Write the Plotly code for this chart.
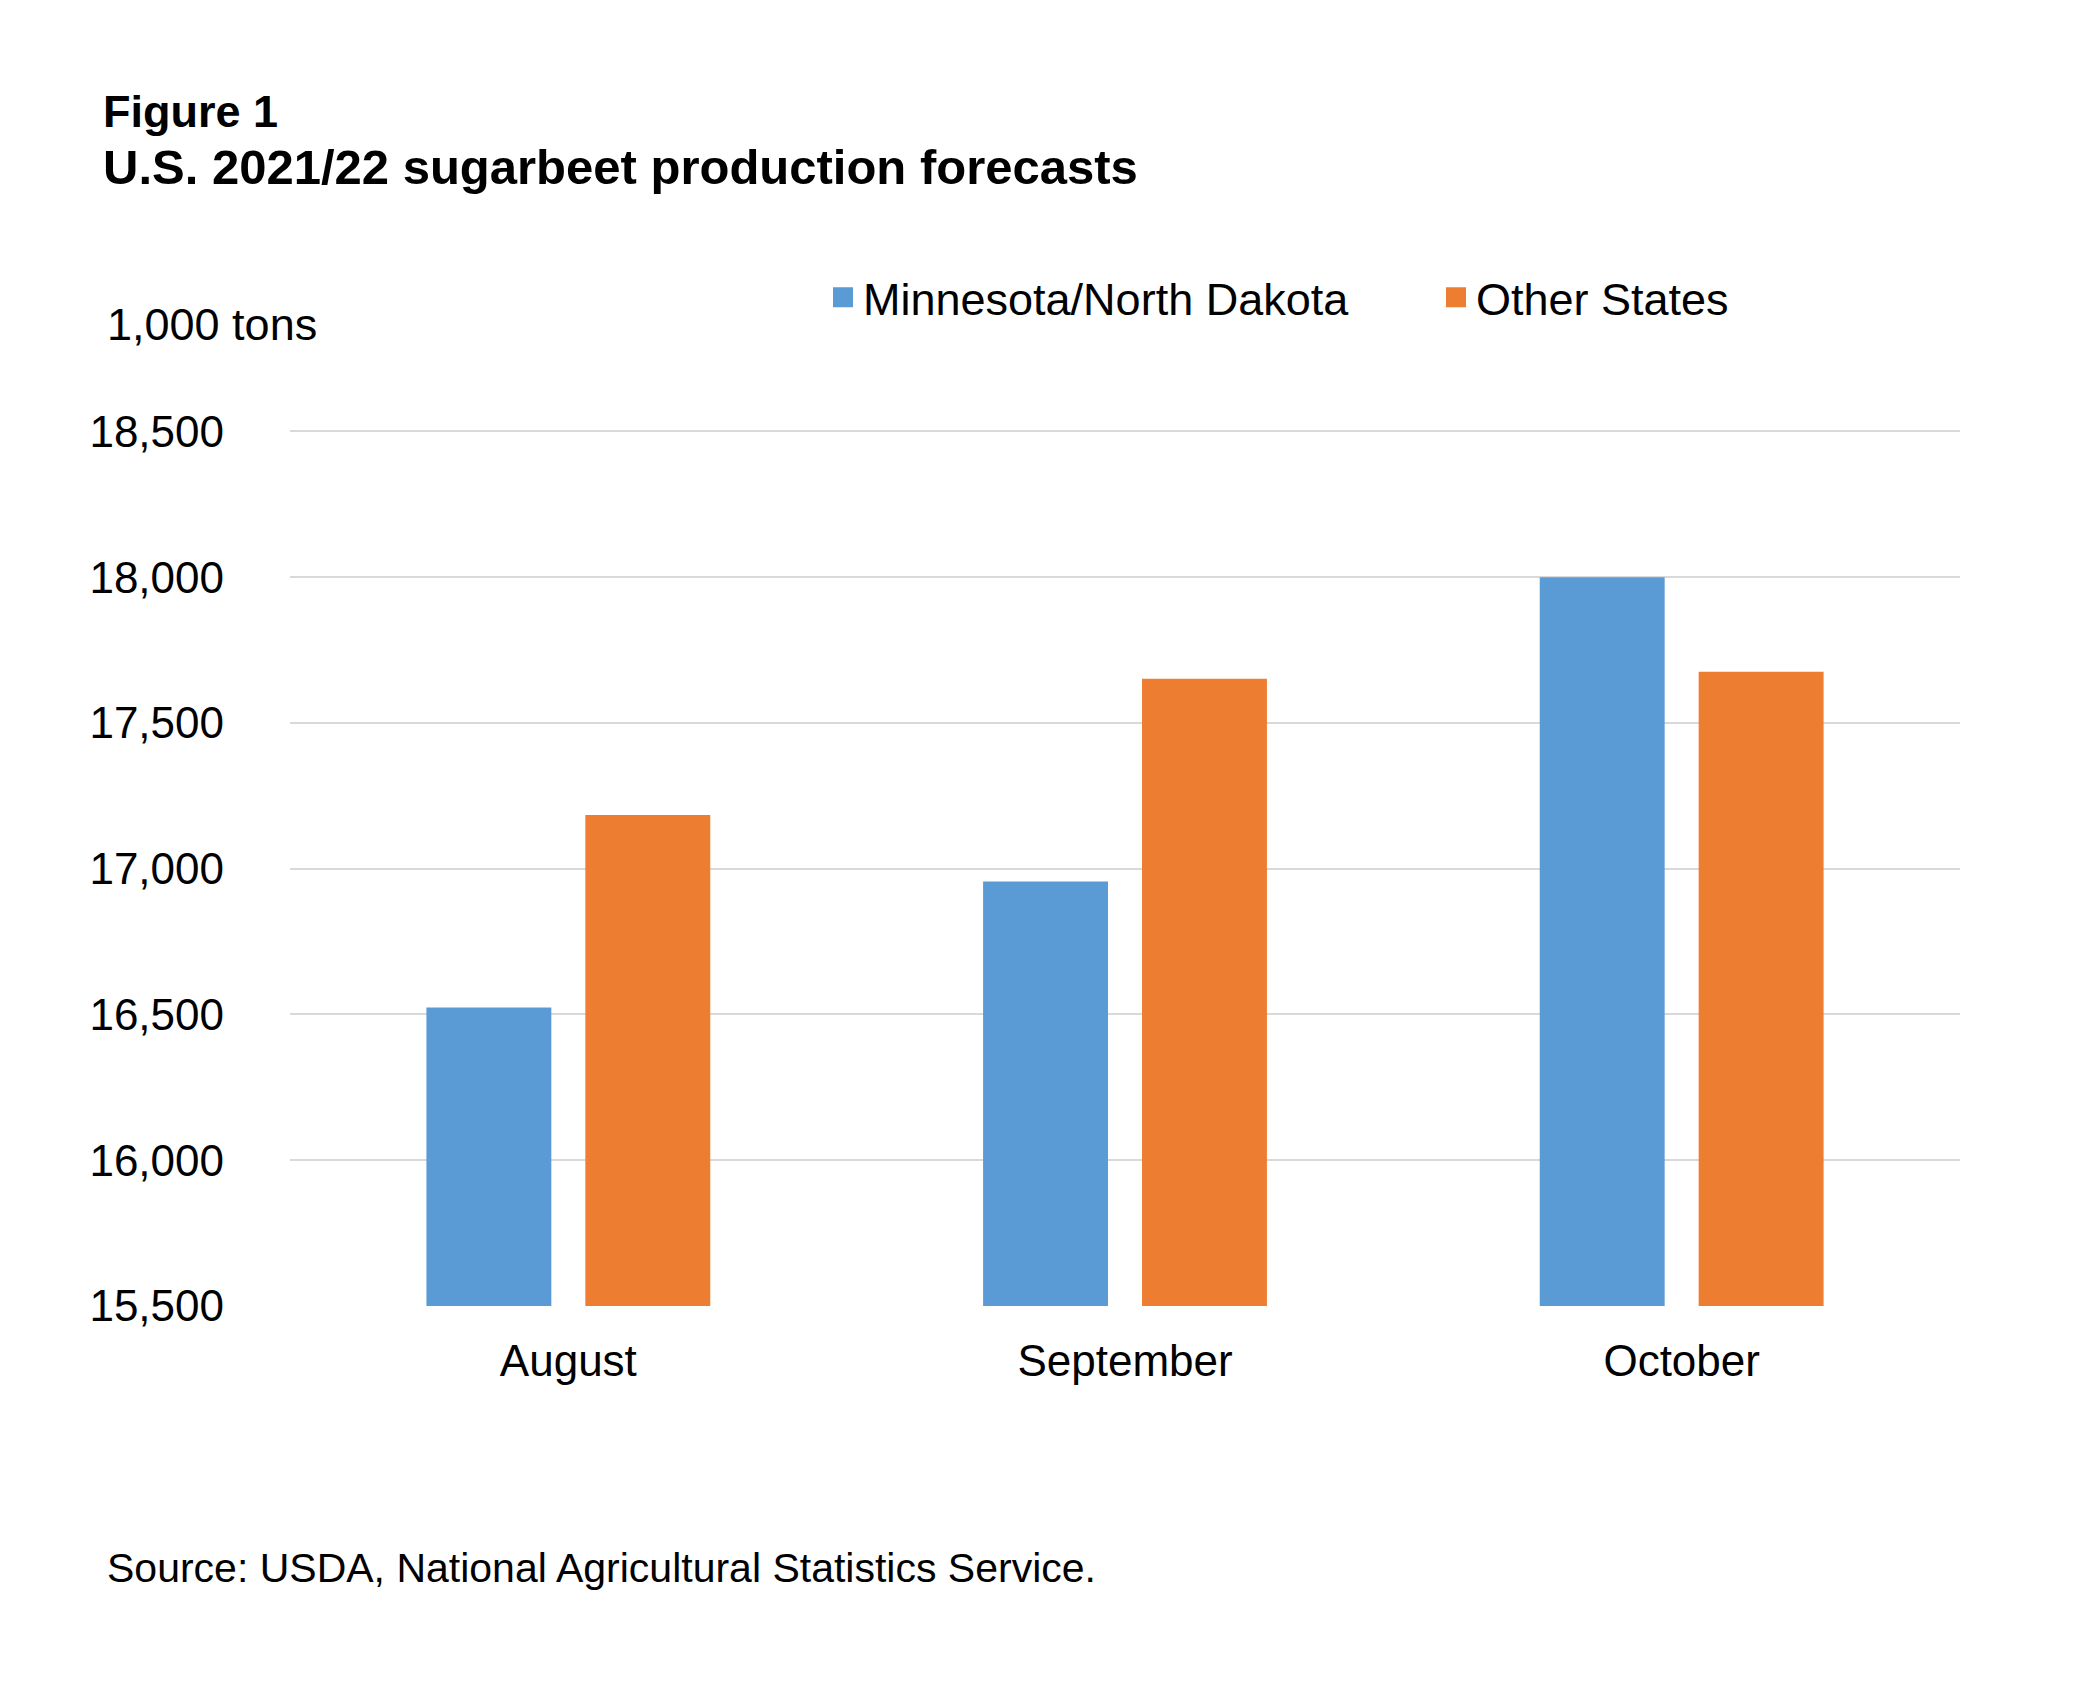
import plotly.graph_objects as go

months = ["August", "September", "October"]
mn_nd = [16524, 16956, 18000]
other_states = [17184, 17652, 17676]
y_ticks = [15500, 16000, 16500, 17000, 17500, 18000, 18500]
series_names = ["Minnesota/North Dakota", "Other States"]
series_colors = ["#5B9BD5", "#ED7D31"]

FONT = "Liberation Sans, Arial, sans-serif"
OFF = 8  # default page body margin
W, H = 2089 - 2 * OFF, 1702 - 2 * OFF
# plot area in page pixels
P_L, P_R, P_T, P_B = 290, 1960, 429.5, 1306
L, T = P_L - OFF, P_T - OFF
R, B = W - (P_R - OFF), H - (P_B - OFF)
PW, PH = W - L - R, H - T - B


def px_x(px):
    return (px - OFF - L) / PW


def px_y(py):
    return (H - B - (py - OFF)) / PH


fig = go.Figure()
for vals, name, col in zip([mn_nd, other_states], series_names, series_colors):
    fig.add_trace(go.Bar(x=months, y=vals, name=name, showlegend=False,
                         marker=dict(color=col, line=dict(width=0))))
for name, col in zip(series_names, series_colors):
    fig.add_trace(go.Scatter(x=[None], y=[None], mode="markers", name=name,
                             marker=dict(symbol="square", size=22, color=col,
                                         line=dict(width=4, color=col))))

fig.update_layout(
    width=W, height=H,
    margin=dict(l=L, r=R, t=T, b=B),
    paper_bgcolor="white", plot_bgcolor="white",
    font=dict(family=FONT, size=44, color="black"),
    barmode="group", bargap=0.429, bargroupgap=0.214,
    legend=dict(orientation="h", x=px_x(823), xanchor="left",
                y=px_y(297), yanchor="middle",
                font=dict(family=FONT, size=45, color="black"),
                entrywidth=568, entrywidthmode="pixels",
                itemsizing="trace",
                bgcolor="rgba(0,0,0,0)"),
    showlegend=True,
)
fig.update_yaxes(range=[15500, 18505], tickvals=y_ticks, tickformat=",",
                 showgrid=True, gridcolor="#d9d9d9", gridwidth=1.5,
                 zeroline=False, showline=False, ticks="",
                 ticklabelstandoff=65,
                 tickfont=dict(family=FONT, size=44, color="black"))
fig.update_xaxes(showgrid=False, showline=False, ticks="", zeroline=False,
                 ticklabelstandoff=25,
                 tickfont=dict(family=FONT, size=44, color="black"))

fig.add_annotation(text="<b>Figure 1</b>", xref="paper", yref="paper",
                   x=px_x(101), y=px_y(111), xanchor="left", yanchor="middle",
                   showarrow=False, font=dict(family=FONT, size=45, color="black"))
fig.add_annotation(text="<b>U.S. 2021/22 sugarbeet production forecasts</b>",
                   xref="paper", yref="paper",
                   x=px_x(101), y=px_y(166), xanchor="left", yanchor="middle",
                   showarrow=False, font=dict(family=FONT, size=49, color="black"))
fig.add_annotation(text="1,000 tons", xref="paper", yref="paper",
                   x=px_x(105), y=px_y(324), xanchor="left", yanchor="middle",
                   showarrow=False, font=dict(family=FONT, size=45, color="black"))
fig.add_annotation(text="Source: USDA, National Agricultural Statistics Service.",
                   xref="paper", yref="paper",
                   x=px_x(105), y=px_y(1568), xanchor="left", yanchor="middle",
                   showarrow=False, font=dict(family=FONT, size=41, color="black"))

fig.write_html("out.html")
